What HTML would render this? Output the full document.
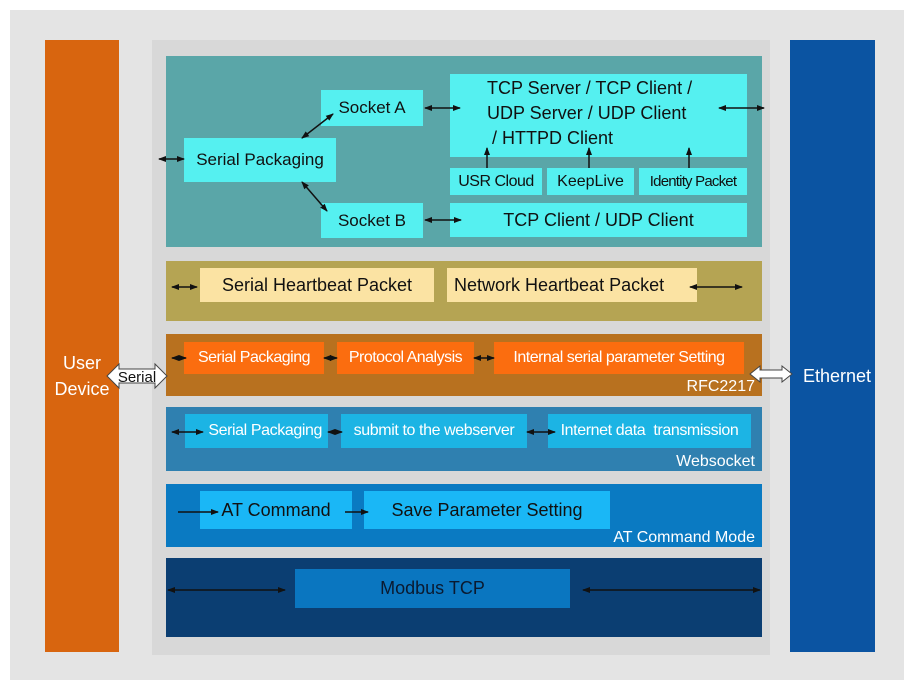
<!DOCTYPE html>
<html><head><meta charset="utf-8"><style>
body{margin:0;width:914px;height:688px;background:#fff;position:relative;overflow:hidden;font-family:"Liberation Sans",sans-serif}
div{position:absolute;box-sizing:border-box}
.b{display:flex;align-items:center;justify-content:center;white-space:nowrap;color:#111}
.c{background:#55f0f0}
.t{color:#fff;font-size:16px;text-align:right}
svg{position:absolute;left:0;top:0}
</style></head><body>
<div style="left:10px;top:10px;width:894px;height:670px;background:#e4e4e4"></div>
<div style="left:152px;top:40px;width:618px;height:615px;background:#d8d8d8"></div>
<div style="left:45px;top:40px;width:74px;height:612px;background:#d8650f"></div>
<div style="left:790px;top:40px;width:85px;height:612px;background:#0b54a2"></div>
<div class="b" style="left:45px;top:348px;width:74px;height:56px;color:#fff;font-size:18px;text-align:center;line-height:26px;flex-direction:column"><span>User</span><span>Device</span></div>
<div class="b" style="left:792px;top:364px;width:90px;height:24px;color:#fff;font-size:18px">Ethernet</div>

<div style="left:166px;top:56px;width:596px;height:191px;background:#5aa6a8"></div>
<div class="b c" style="left:184px;top:138px;width:152px;height:44px;font-size:17px">Serial Packaging</div>
<div class="b c" style="left:321px;top:90px;width:102px;height:36px;font-size:17px">Socket A</div>
<div class="b c" style="left:321px;top:203px;width:102px;height:35px;font-size:17px">Socket B</div>
<div class="c" style="left:450px;top:74px;width:297px;height:83px"></div>
<div style="left:487px;top:76px;font-size:18px;line-height:25px;color:#111">TCP Server / TCP Client /<br>UDP Server / UDP Client<br>&nbsp;/ HTTPD Client</div>
<div class="b c" style="left:450px;top:168px;width:92px;height:27px;font-size:16px;letter-spacing:-0.5px">USR Cloud</div>
<div class="b c" style="left:547px;top:168px;width:87px;height:27px;font-size:16px">KeepLive</div>
<div class="b c" style="left:639px;top:168px;width:108px;height:27px;font-size:15px;letter-spacing:-0.8px">Identity Packet</div>
<div class="b c" style="left:450px;top:203px;width:297px;height:34px;font-size:18px">TCP Client / UDP Client</div>

<div style="left:166px;top:261px;width:596px;height:60px;background:#b5a453"></div>
<div class="b" style="left:200px;top:268px;width:234px;height:34px;background:#fbe3a3;font-size:18px">Serial Heartbeat Packet</div>
<div class="b" style="left:447px;top:268px;width:250px;height:34px;background:#fbe3a3;font-size:18px;justify-content:flex-start;padding-left:7px">Network Heartbeat Packet</div>

<div style="left:166px;top:334px;width:596px;height:62px;background:#b8711f"></div>
<div class="b" style="left:184px;top:342px;width:140px;height:32px;background:#fb6d0f;color:#fff;font-size:16px;letter-spacing:-0.5px">Serial Packaging</div>
<div class="b" style="left:337px;top:342px;width:137px;height:32px;background:#fb6d0f;color:#fff;font-size:16px;letter-spacing:-0.5px">Protocol Analysis</div>
<div class="b" style="left:494px;top:342px;width:250px;height:32px;background:#fb6d0f;color:#fff;font-size:16px;letter-spacing:-0.5px">Internal serial parameter Setting</div>
<div class="t" style="left:600px;top:378px;width:155px">RFC2217</div>

<div style="left:166px;top:407px;width:596px;height:64px;background:#2f80b0"></div>
<div class="b" style="left:185px;top:414px;width:143px;height:34px;background:#1cb4e4;color:#fff;font-size:16px;letter-spacing:-0.4px;justify-content:flex-end;padding-right:6px">Serial Packaging</div>
<div class="b" style="left:341px;top:414px;width:186px;height:34px;background:#1cb4e4;color:#fff;font-size:16px;letter-spacing:-0.4px">submit to the webserver</div>
<div class="b" style="left:548px;top:414px;width:203px;height:34px;background:#1cb4e4;color:#fff;font-size:16px;letter-spacing:-0.4px">Internet data&nbsp; transmission</div>
<div class="t" style="left:600px;top:453px;width:155px">Websocket</div>

<div style="left:166px;top:484px;width:596px;height:63px;background:#0a7ac2"></div>
<div class="b" style="left:200px;top:491px;width:152px;height:38px;background:#1ab7f6;font-size:18px">AT Command</div>
<div class="b" style="left:364px;top:491px;width:246px;height:38px;background:#1ab7f6;font-size:18px">Save Parameter Setting</div>
<div class="t" style="left:560px;top:529px;width:195px">AT Command Mode</div>

<div style="left:166px;top:558px;width:596px;height:79px;background:#0b3e72"></div>
<div class="b" style="left:295px;top:569px;width:275px;height:39px;background:#0a76c0;font-size:18px;color:#0a1a30">Modbus TCP</div>

<svg width="914" height="688" viewBox="0 0 914 688">
<defs><marker id="a" markerWidth="8" markerHeight="8" refX="7" refY="4" orient="auto-start-reverse" markerUnits="userSpaceOnUse"><path d="M0,1 L8,4 L0,7 Z" fill="#111"/></marker></defs>
<g stroke="#111" stroke-width="1.5" fill="none" marker-start="url(#a)" marker-end="url(#a)">
<line x1="159" y1="159" x2="184" y2="159"/>
<line x1="302" y1="138" x2="333" y2="114"/>
<line x1="302" y1="182" x2="327" y2="211"/>
<line x1="425" y1="108" x2="460" y2="108"/>
<line x1="425" y1="220" x2="461" y2="220"/>
<line x1="719" y1="108" x2="764" y2="108"/>
<line x1="172" y1="287" x2="197" y2="287"/>
<line x1="690" y1="287" x2="742" y2="287"/>
<line x1="172" y1="358" x2="186" y2="358"/>
<line x1="324" y1="358" x2="337" y2="358"/>
<line x1="474" y1="358" x2="494" y2="358"/>
<line x1="172" y1="432" x2="203" y2="432"/>
<line x1="328" y1="432" x2="342" y2="432"/>
<line x1="527" y1="432" x2="555" y2="432"/>
<line x1="168" y1="590" x2="285" y2="590"/>
<line x1="583" y1="590" x2="760" y2="590"/>
</g>
<g stroke="#111" stroke-width="1.5" fill="none" marker-end="url(#a)">
<line x1="487" y1="168" x2="487" y2="148"/>
<line x1="589" y1="168" x2="589" y2="148"/>
<line x1="689" y1="168" x2="689" y2="148"/>
<line x1="178" y1="512" x2="218" y2="512"/>
<line x1="345" y1="512" x2="368" y2="512"/>
</g>
<path d="M107,376 L119,364 L119,369 L155,369 L155,364 L167,376 L155,388 L155,383 L119,383 L119,388 Z" fill="#fff" stroke="#444" stroke-width="1"/>
<text x="137" y="382" font-size="15" text-anchor="middle" font-family="Liberation Sans,sans-serif" fill="#111">Serial</text>
<path d="M750,374 L760,366 L760,370 L782,370 L782,366 L792,374 L782,382 L782,378 L760,378 L760,382 Z" fill="#fff" stroke="#444" stroke-width="1"/>
</svg>
</body></html>
